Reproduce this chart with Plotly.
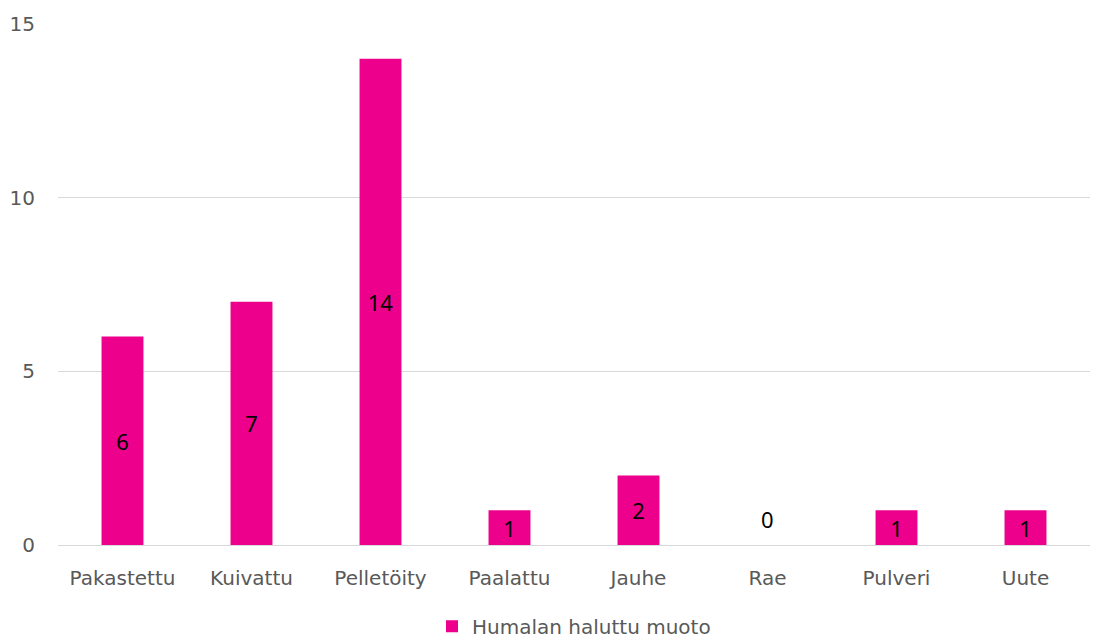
import plotly.graph_objects as go

categories = ["Pakastettu", "Kuivattu", "Pelletöity", "Paalattu", "Jauhe", "Rae", "Pulveri", "Uute"]
values = [6, 7, 14, 1, 2, 0, 1, 1]
series_name = "Humalan haluttu muoto"
y_ticks = [0, 5, 10, 15]

bar_color = "#EC008C"
text_color = "#595959"
axis_font = "DejaVu Sans"
label_font = "Noto Sans"

# Non-zero values get their label centred inside the bar
bar_text = [str(v) if v > 0 else "" for v in values]

fig = go.Figure(
    go.Bar(
        x=categories,
        y=values,
        name=series_name,
        marker=dict(color=bar_color, line=dict(width=0)),
        text=bar_text,
        textposition="inside",
        insidetextanchor="middle",
        textangle=0,
        textfont=dict(color="black", size=22, family=label_font),
        constraintext="none",
        cliponaxis=False,
    )
)

# Zero-height bars still show their value just above the baseline
for cat, v in zip(categories, values):
    if v == 0:
        fig.add_annotation(
            x=cat, y=v, text=str(v), showarrow=False,
            yanchor="middle", yshift=26,
            font=dict(color="black", size=22, family=label_font),
        )

fig.update_layout(
    width=1104,
    height=640,
    margin=dict(l=58, r=14, t=24, b=95, autoexpand=False),
    paper_bgcolor="white",
    plot_bgcolor="white",
    bargap=0.675,
    font=dict(family=axis_font, color=text_color, size=20),
    showlegend=True,
    legend=dict(
        orientation="h",
        x=0.5,
        xanchor="center",
        y=-0.156,
        yanchor="middle",
        font=dict(size=20, color=text_color, family=axis_font),
        itemwidth=30,
    ),
)

fig.update_yaxes(
    range=[0, 15],
    tickvals=y_ticks,
    showgrid=True,
    gridcolor="#D9D9D9",
    gridwidth=1,
    zeroline=True,
    zerolinecolor="#D9D9D9",
    zerolinewidth=1,
    showline=False,
    ticks="",
    ticklabelstandoff=22,
    tickfont=dict(size=20, color=text_color),
)

fig.update_xaxes(
    showline=False,
    ticks="",
    tickfont=dict(size=20, color=text_color),
    ticklabelstandoff=19,
)

fig.write_html("out.html")
